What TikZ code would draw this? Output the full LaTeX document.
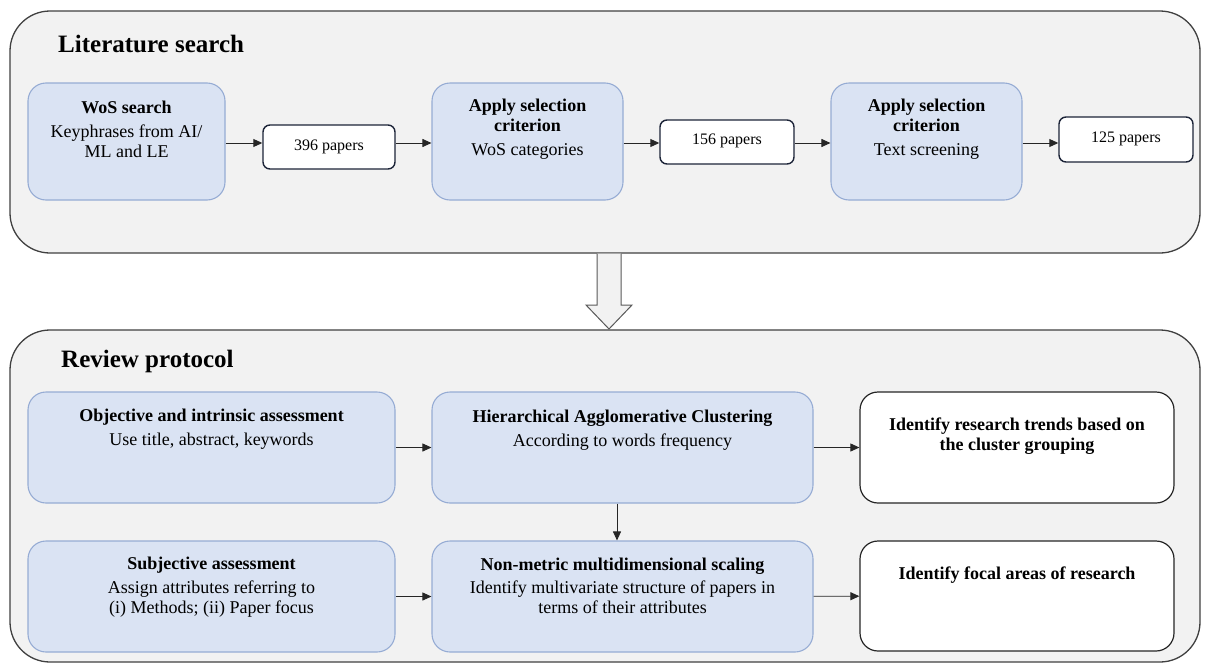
\documentclass[tikz,border=0pt]{standalone}
\usepackage{fontspec}
\setmainfont{Liberation Serif}
\usetikzlibrary{arrows.meta}
\definecolor{boxfill}{RGB}{218,227,243}
\definecolor{boxedge}{RGB}{150,172,212}
\definecolor{navyedge}{RGB}{28,36,56}
\definecolor{contfill}{RGB}{242,242,242}
\definecolor{contedge}{RGB}{64,64,64}
\tikzset{
  container/.style={draw=contedge, fill=contfill, line width=1.3pt, rounded corners=40pt},
  bluebox/.style={draw=boxedge, fill=boxfill, line width=1.1pt, rounded corners=18pt, inner sep=0pt},
  paperbox/.style={draw=navyedge, fill=white, line width=1.4pt, rounded corners=7pt, inner sep=0pt},
  whitebox/.style={draw=black!85, fill=white, line width=1.2pt, rounded corners=18pt, inner sep=0pt},
  txt/.style={inner sep=0pt, align=center, font=\fontsize{18}{20}\selectfont},
  ptxt/.style={inner sep=0pt, font=\fontsize{16}{19}\selectfont},
  ttl/.style={inner sep=0pt, font=\fontsize{25}{28}\selectfont\bfseries},
  arr/.style={draw=black!85, line width=0.9pt, -{Triangle[length=9pt,width=8pt]}},
  bigarrow/.style={draw=black!65, fill=contfill, line width=1pt, line join=miter},
}
\begin{document}
\begin{tikzpicture}[x=1pt,y=-1pt]
\useasboundingbox (0,0) rectangle (1205,664);
% containers
\node[container, minimum width=1190pt, minimum height=242pt, inner sep=0pt] (lit) at (605,132) {};
\node[container, minimum width=1190pt, minimum height=332pt, inner sep=0pt] (rev) at (605,496) {};
\node[ttl, anchor=base west] (littitle) at (58,52) {Literature search};
\node[ttl, anchor=base west] (revtitle) at (61,367) {Review protocol};
% big hollow arrow between containers
\coordinate (ba1) at (597,253.7);
\coordinate (ba2) at (597,305);
\coordinate (ba3) at (586,305);
\coordinate (ba4) at (609,329);
\coordinate (ba5) at (632,305);
\coordinate (ba6) at (621,305);
\coordinate (ba7) at (621,253.7);
\filldraw[bigarrow] (ba1) -- (ba2) -- (ba3) -- (ba4) -- (ba5) -- (ba6) -- (ba7);
% top row
\node[bluebox, minimum width=197pt, minimum height=117pt] (wos) at (126.5,141.5) {};
\node[paperbox, minimum width=132pt, minimum height=44pt] (p396) at (329,147) {};
\node[bluebox, minimum width=191pt, minimum height=117pt] (app1) at (527.5,141.5) {};
\node[paperbox, minimum width=134pt, minimum height=44pt] (p156) at (727,142) {};
\node[bluebox, minimum width=191pt, minimum height=117pt] (app2) at (926.5,141.5) {};
\node[paperbox, minimum width=134pt, minimum height=45pt] (p125) at (1126,139.5) {};
\node[txt, anchor=base] (wost) at (126.5,157) {\textbf{WoS search}\\[4pt]Keyphrases from AI/\\ML and LE};
\node[ptxt, anchor=base] (p396t) at (329,150) {396 papers};
\node[txt, anchor=base] (app1t) at (527.5,155) {\textbf{Apply selection}\\\textbf{criterion}\\[4pt]WoS categories};
\node[ptxt, anchor=base] (p156t) at (727,144) {156 papers};
\node[txt, anchor=base] (app2t) at (926.5,155) {\textbf{Apply selection}\\\textbf{criterion}\\[4pt]Text screening};
\node[ptxt, anchor=base] (p125t) at (1126,142) {125 papers};
\coordinate (rowA) at (0,143);
\draw[arr] (wos.east |- rowA) -- (p396.west |- rowA);
\draw[arr] (p396.east |- rowA) -- (app1.west |- rowA);
\draw[arr] (app1.east |- rowA) -- (p156.west |- rowA);
\draw[arr] (p156.east |- rowA) -- (app2.west |- rowA);
\draw[arr] (app2.east |- rowA) -- (p125.west |- rowA);
% bottom rows
\node[bluebox, minimum width=367pt, minimum height=111pt] (obj) at (211.5,447.5) {};
\node[bluebox, minimum width=367pt, minimum height=111pt] (subj) at (211.5,596.5) {};
\node[bluebox, minimum width=381pt, minimum height=111pt] (hac) at (622.5,447.5) {};
\node[bluebox, minimum width=381pt, minimum height=111pt] (nmds) at (622.5,596.5) {};
\node[whitebox, minimum width=314pt, minimum height=111pt] (trend) at (1017,447.5) {};
\node[whitebox, minimum width=314pt, minimum height=110pt] (focal) at (1017,596) {};
\node[txt, anchor=base] (objt) at (211.5,445) {\textbf{Objective and intrinsic assessment}\\[4pt]Use title, abstract, keywords};
\node[txt, anchor=base] (subjt) at (211.5,613) {\textbf{Subjective assessment}\\[4pt]Assign attributes referring to\\(i) Methods; (ii) Paper focus};
\node[txt, anchor=base] (hact) at (622.5,446) {\textbf{Hierarchical Agglomerative Clustering}\\[4pt]According to words frequency};
\node[txt, anchor=base] (nmdst) at (622.5,613) {\textbf{Non-metric multidimensional scaling}\\[3pt]Identify multivariate structure of papers in\\terms of their attributes};
\node[txt, anchor=base, font=\fontsize{18}{20}\selectfont\bfseries] (trendt) at (1017,450) {Identify research trends based on\\the cluster grouping};
\node[txt, anchor=base, font=\fontsize{18}{20}\selectfont\bfseries] (focalt) at (1017,579) {Identify focal areas of research};
\draw[arr] (obj) -- (hac);
\draw[arr] (subj) -- (nmds);
\draw[arr] (hac) -- (trend);
\draw[arr] (nmds) -- (focal);
\coordinate (colV) at (617,0);
\draw[arr] (hac.south -| colV) -- (nmds.north -| colV);
\end{tikzpicture}
\end{document}
